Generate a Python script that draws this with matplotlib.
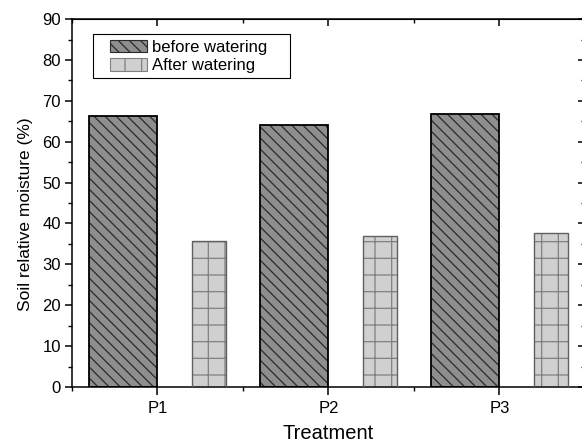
import numpy as np
import matplotlib
matplotlib.use("Agg")
import matplotlib.pyplot as plt
from matplotlib.patches import Patch, Rectangle
from matplotlib.ticker import MultipleLocator

plt.rcParams["font.family"] = ["Liberation Sans", "DejaVu Sans"]
plt.rcParams["hatch.linewidth"] = 0.9

# data
treatments = ["P1", "P2", "P3"]
before_watering = [66.3, 64.2, 66.8]
after_watering = [35.8, 36.9, 37.6]

fig = plt.figure(figsize=(5.82, 4.44), dpi=100)
ax = fig.add_axes([0.1237, 0.1284, 0.8813, 0.8286])

x = np.arange(1, len(treatments) + 1)
before_fill = "#8e8e8e"
before_hatch = "#2a2a2a"
after_fill = "#d0d0d0"
after_hatch = "#808080"

# before: bar spans [center-0.4, center]
ax.bar(x - 0.2, before_watering, width=0.4, color=before_fill,
       edgecolor=before_hatch, hatch="\\\\\\", linewidth=0, zorder=2)
ax.bar(x - 0.2, before_watering, width=0.4, fill=False,
       edgecolor="black", linewidth=1.3, zorder=3)

# after: bar spans [center+0.2, center+0.4]
ax.bar(x + 0.3, after_watering, width=0.2, color=after_fill,
       edgecolor=after_hatch, hatch="+", linewidth=0, zorder=2)
ax.bar(x + 0.3, after_watering, width=0.2, fill=False,
       edgecolor="#606060", linewidth=1.0, zorder=3)

ax.set_xlim(0.5, 3.5)
ax.set_ylim(0, 90)
ax.set_xticks(x)
ax.set_xticklabels(treatments)
ax.xaxis.set_minor_locator(MultipleLocator(0.5))
ax.yaxis.set_major_locator(MultipleLocator(10))
ax.yaxis.set_minor_locator(MultipleLocator(5))

ax.tick_params(axis="both", which="major", labelsize=12, width=1.1, length=5,
               direction="out")
ax.tick_params(axis="x", which="major", pad=4, length=6)
ax.tick_params(axis="y", which="major", pad=3)
ax.tick_params(axis="both", which="minor", width=1.0, length=3, direction="out")

# mirrored inward ticks on top and right
ax2 = ax.secondary_xaxis("top")
ax2.set_xticks(x)
ax2.set_xticklabels([])
ax2.xaxis.set_minor_locator(MultipleLocator(0.5))
ax2.tick_params(which="major", direction="in", length=5, width=1.1)
ax2.tick_params(which="minor", direction="in", length=3, width=1.0)
ax3 = ax.secondary_yaxis("right")
ax3.yaxis.set_major_locator(MultipleLocator(10))
ax3.yaxis.set_minor_locator(MultipleLocator(5))
ax3.set_yticklabels([])
ax3.tick_params(which="major", direction="in", length=5, width=1.1)
ax3.tick_params(which="minor", direction="in", length=3, width=1.0)

for s in ax.spines.values():
    s.set_linewidth(1.1)

ax.set_ylabel("Soil relative moisture (%)", fontsize=12.5)
ax.yaxis.set_label_coords(-0.076, 0.47)
ax.set_xlabel("Treatment", fontsize=14.5)
ax.xaxis.set_label_coords(0.5, -0.1)

handles = [
    Patch(facecolor=before_fill, edgecolor=before_hatch, hatch="\\\\\\",
          linewidth=0.8, label="before watering"),
    Patch(facecolor=after_fill, edgecolor=after_hatch, hatch="+",
          linewidth=0.8, label="After watering"),
]
ax.legend(handles=handles, loc="upper left", bbox_to_anchor=(0.074, 0.943),
          borderaxespad=0, borderpad=0, fontsize=12, frameon=False,
          handlelength=2.2, handleheight=0.75, labelspacing=0.2,
          handletextpad=0.35)
ax.add_patch(Rectangle((0.041, 0.840), 0.384, 0.119, transform=ax.transAxes,
                       fill=False, edgecolor="black", linewidth=0.8, zorder=4))

fig.savefig("out.png", dpi=100)
